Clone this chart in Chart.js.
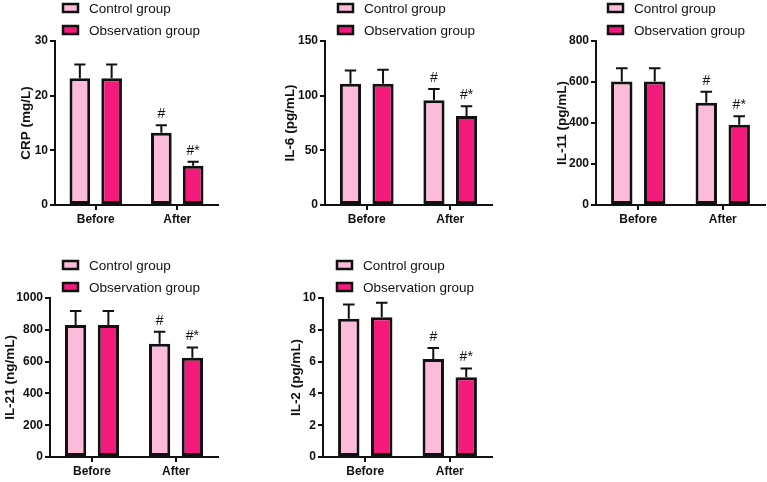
<!DOCTYPE html>
<html>
<head>
<meta charset="utf-8">
<script src="https://cdn.jsdelivr.net/npm/chart.js@4.4.1/dist/chart.umd.min.js"></script>
<style>
  html, body { margin: 0; padding: 0; background: #fff; overflow: hidden; }
  body { width: 767px; height: 482px; position: relative; }
  .panel { position: absolute; }
</style>
</head>
<body>
<div class="panel" style="left:0px;top:0px;width:255px;height:230px"><canvas id="crp"></canvas></div>
<div class="panel" style="left:255px;top:0px;width:255px;height:230px"><canvas id="il6"></canvas></div>
<div class="panel" style="left:510px;top:0px;width:257px;height:230px"><canvas id="il11"></canvas></div>
<div class="panel" style="left:0px;top:257px;width:255px;height:225px"><canvas id="il21"></canvas></div>
<div class="panel" style="left:255px;top:257px;width:255px;height:225px"><canvas id="il2"></canvas></div>
<script>
// categories and series
const timePoints = ['Before', 'After'];
const seriesNames = ['Control group', 'Observation group'];
const controlMarks = ['', '#'];
const observationMarks = ['', '#*'];

// means and upper error (SD)
const crpControl = [23.2, 13.2];
const crpControlSD = [2.5, 1.4];
const crpObservation = [23.2, 7.2];
const crpObservationSD = [2.5, 0.7];

const il6Control = [111, 95.7];
const il6ControlSD = [12, 10.3];
const il6Observation = [111, 81.4];
const il6ObservationSD = [12.6, 9];

const il11Control = [602, 499];
const il11ControlSD = [65, 53];
const il11Observation = [602, 392];
const il11ObservationSD = [65, 41];

const il21Control = [830, 713];
const il21ControlSD = [88, 74];
const il21Observation = [830, 624];
const il21ObservationSD = [88, 64];

const il2Control = [8.69, 6.16];
const il2ControlSD = [0.9, 0.7];
const il2Observation = [8.79, 5.01];
const il2ObservationSD = [0.91, 0.55];

const FONT = "'Liberation Sans', Arial, sans-serif";
const CONTROL_COLOR = '#FBBBD9';
const OBS_COLOR = '#F31A7C';

// error bars + significance marks
const errorBarPlugin = {
    id: 'errorBars',
    afterDatasetsDraw(chart) {
        const ctx = chart.ctx;
        const yScale = chart.scales.y;
        chart.data.datasets.forEach((ds, di) => {
            const meta = chart.getDatasetMeta(di);
            meta.data.forEach((bar, i) => {
                const top = yScale.getPixelForValue(ds.data[i] + ds.sd[i]);
                const cap = bar.width * 0.27;
                ctx.save();
                ctx.strokeStyle = '#111';
                ctx.lineWidth = 2;
                ctx.beginPath();
                ctx.moveTo(bar.x, bar.y);
                ctx.lineTo(bar.x, top);
                ctx.moveTo(bar.x - cap, top);
                ctx.lineTo(bar.x + cap, top);
                ctx.stroke();
                if (ds.marks[i]) {
                    ctx.fillStyle = '#111';
                    ctx.font = '14px ' + FONT;
                    ctx.textAlign = 'center';
                    ctx.textBaseline = 'bottom';
                    ctx.fillText(ds.marks[i], bar.x, top - 4);
                }
                ctx.restore();
            });
        });
    }
};

// two-row legend above the plot
const stackedLegendPlugin = {
    id: 'stackedLegend',
    afterDraw(chart, args, opts) {
        const ctx = chart.ctx;
        const area = chart.chartArea;
        const x = area.left + opts.dx;
        chart.data.datasets.forEach((ds, i) => {
            const y = area.top - 33 + i * 22;
            ctx.save();
            ctx.fillStyle = ds.backgroundColor;
            ctx.strokeStyle = '#111';
            ctx.lineWidth = 2.5;
            ctx.fillRect(x, y - 4, 15, 8);
            ctx.strokeRect(x, y - 4, 15, 8);
            ctx.fillStyle = '#111';
            ctx.font = '13.5px ' + FONT;
            ctx.textAlign = 'left';
            ctx.textBaseline = 'middle';
            ctx.fillText(ds.label, x + 26, y + 1);
            ctx.restore();
        });
    }
};

function makePanel(id, title, control, controlSD, observation, observationSD, max, step, pad, legendDx) {
    new Chart(document.getElementById(id), {
        type: 'bar',
        data: {
            labels: timePoints,
            datasets: [
                {
                    label: seriesNames[0], data: control, sd: controlSD, marks: controlMarks,
                    backgroundColor: CONTROL_COLOR, borderColor: '#111', borderWidth: 3, borderSkipped: false
                },
                {
                    label: seriesNames[1], data: observation, sd: observationSD, marks: observationMarks,
                    backgroundColor: OBS_COLOR, borderColor: '#111', borderWidth: 3, borderSkipped: false
                }
            ]
        },
        options: {
            responsive: true,
            maintainAspectRatio: false,
            animation: false,
            datasets: { bar: { categoryPercentage: 0.78, barPercentage: 0.65 } },
            layout: { padding: { left: pad.left, right: pad.right, top: 41, bottom: 0 } },
            plugins: {
                legend: { display: false },
                tooltip: { enabled: false },
                stackedLegend: { dx: legendDx }
            },
            scales: {
                x: {
                    grid: { display: true, drawOnChartArea: false, offset: false, color: '#111', lineWidth: 2, tickLength: 5 },
                    border: { color: '#111', width: 2 },
                    ticks: { color: '#111', font: { family: FONT, size: 12, weight: 'bold' }, padding: 2 },
                    afterFit: s => { s.height = 25; }
                },
                y: {
                    min: 0, max: max,
                    ticks: {
                        stepSize: step, color: '#111', padding: 2,
                        font: { family: FONT, size: 12, weight: 'bold' },
                        callback: v => String(v)
                    },
                    grid: { display: true, drawOnChartArea: false, color: '#111', lineWidth: 2, tickLength: 5 },
                    border: { color: '#111', width: 2 },
                    title: { display: true, text: title, color: '#111', padding: 0, font: { family: FONT, size: 13.5, weight: 'bold' } },
                    afterFit: s => { s.width = pad.axis; }
                }
            }
        },
        plugins: [errorBarPlugin, stackedLegendPlugin]
    });
}

makePanel('crp', 'CRP (mg/L)', crpControl, crpControlSD, crpObservation, crpObservationSD, 30, 10,
    { left: 18, axis: 37, right: 37 }, 8);
makePanel('il6', 'IL-6 (pg/mL)', il6Control, il6ControlSD, il6Observation, il6ObservationSD, 150, 50,
    { left: 27, axis: 43, right: 18 }, 13);
makePanel('il11', 'IL-11 (pg/mL)', il11Control, il11ControlSD, il11Observation, il11ObservationSD, 800, 200,
    { left: 44, axis: 42, right: 2 }, 12);
makePanel('il21', 'IL-21 (ng/mL)', il21Control, il21ControlSD, il21Observation, il21ObservationSD, 1000, 200,
    { left: 2, axis: 48, right: 37 }, 13);
makePanel('il2', 'IL-2 (pg/mL)', il2Control, il2ControlSD, il2Observation, il2ObservationSD, 10, 2,
    { left: 33, axis: 35, right: 18 }, 14);
</script>
</body>
</html>
